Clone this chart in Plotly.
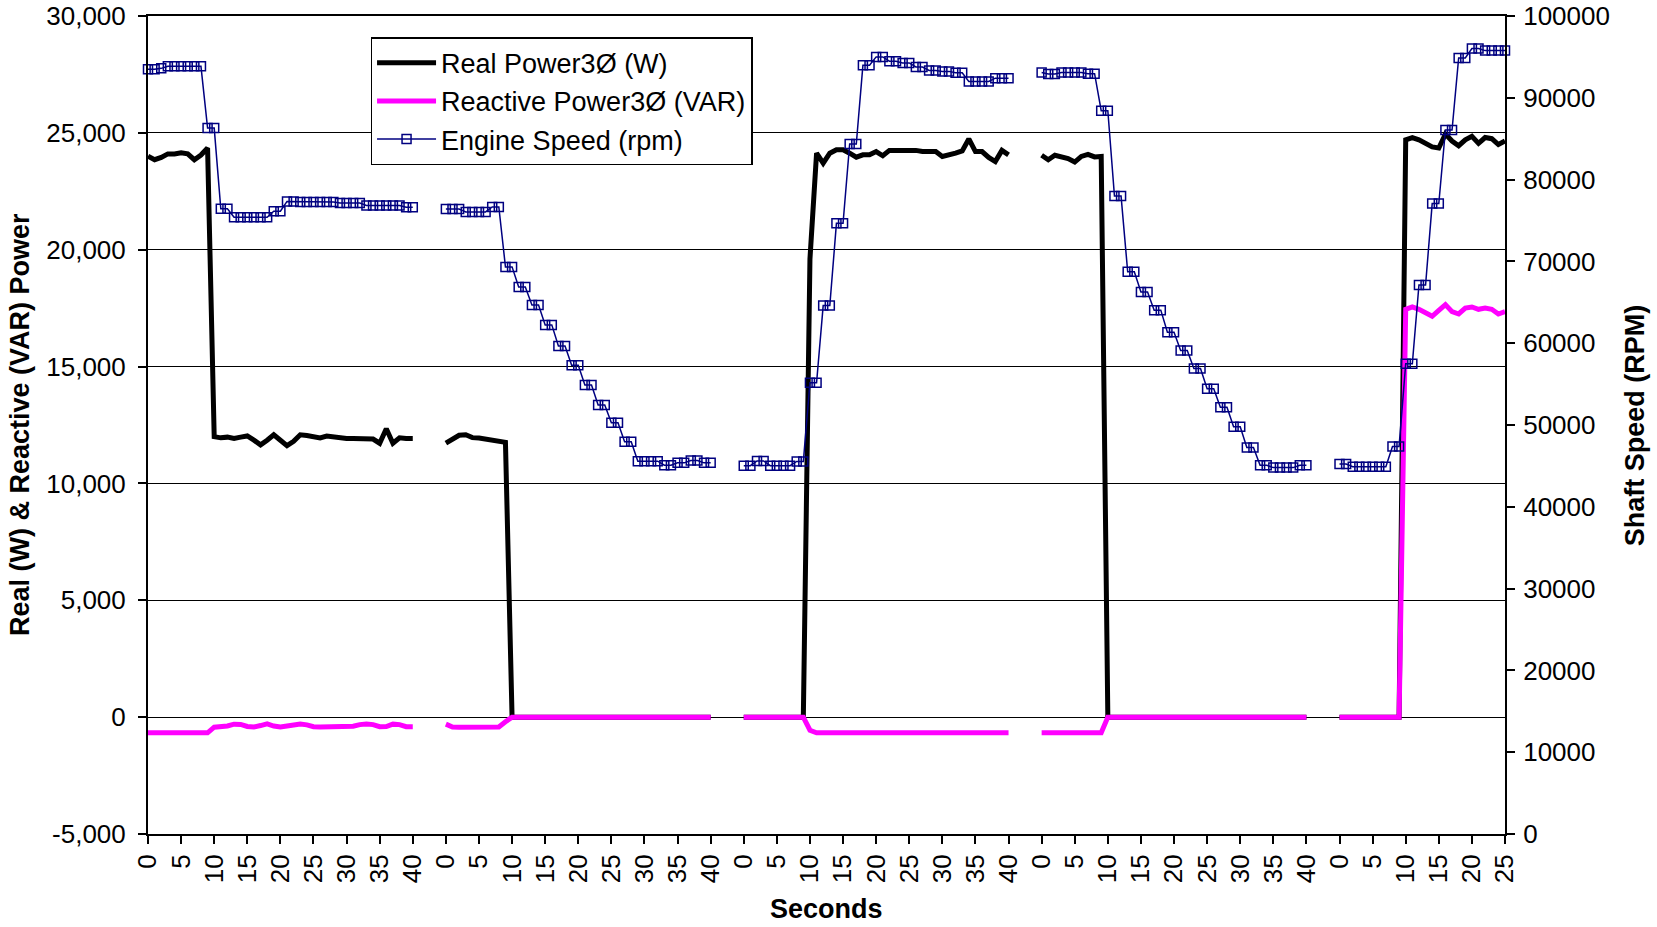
import plotly.graph_objects as go

# ---------------- data (one value per second, per test run) ----------------
real_run1 = [24000, 23850, 23950, 24100, 24100, 24150, 24100, 23850, 24050, 24350,
             12000, 11950, 11980, 11920, 11980, 12030, 11850, 11650, 11850, 12080,
             11850, 11620, 11800, 12080, 12050, 12000, 11950, 12030, 11980, 11920,
             11920, 11920, 11920, 11920, 11900, 11720, 12340, 11720, 11950, 11920, 11920]
react_run1 = [-670, -670, -670, -670, -670, -670, -670, -670, -670, -670,
              -430, -420, -380, -300, -310, -400, -420, -360, -290, -380,
              -420, -380, -310, -290, -330, -410, -420, -420, -420, -420,
              -420, -390, -320, -290, -320, -410, -400, -300, -320, -410, -410]
speed_run1 = [93480, 93480, 93600, 93850, 93850, 93850, 93850, 93850, 93850, 86300,
              86300, 76430, 76430, 75390, 75390, 75390, 75390, 75390, 75390, 76130,
              76130, 77330, 77330, 77250, 77250, 77250, 77250, 77250, 77250, 77130,
              77130, 77130, 77130, 76840, 76840, 76840, 76840, 76840, 76840, 76630, 76630]

real_run2 = [11720, 11880, 12060, 12080, 11960, 11940, 11900, 11880, 11840, 11760,
             0, 0, 0, 0, 0, 0, 0, 0, 0, 0,
             0, 0, 0, 0, 0, 0, 0, 0, 0, 0,
             0, 0, 0, 0, 0, 0, 0, 0, 0, 0, 0]
react_run2 = [-300, -420, -430, -430, -430, -430, -430, -430, -420, -200,
              0, 0, 0, 0, 0, 0, 0, 0, 0, 0,
              0, 0, 0, 0, 0, 0, 0, 0, 0, 0,
              0, 0, 0, 0, 0, 0, 0, 0, 0, 0, 0]
speed_run2 = [76400, 76400, 76400, 76050, 76050, 76050, 76050, 76660, 76660, 69330,
              69330, 66880, 66880, 64680, 64680, 62240, 62240, 59670, 59670, 57310,
              57310, 54900, 54900, 52460, 52460, 50260, 50260, 47940, 47940, 45580,
              45580, 45580, 45580, 45090, 45090, 45370, 45370, 45660, 45660, 45370, 45370]

real_run3 = [0, 0, 0, 0, 0, 0, 0, 0, 0, 0,
             19600, 24130, 23700, 24130, 24280, 24280, 24130, 23960, 24060, 24060,
             24200, 24020, 24250, 24250, 24280, 24280, 24250, 24200, 24200, 24200,
             23990, 24050, 24130, 24230, 24740, 24200, 24200, 23950, 23770, 24250, 24060]
react_run3 = [0, 0, 0, 0, 0, 0, 0, 0, 0, 0,
              -560, -670, -670, -670, -670, -670, -670, -670, -670, -670,
              -670, -670, -670, -670, -670, -670, -670, -670, -670, -670,
              -670, -670, -670, -670, -670, -670, -670, -670, -670, -670, -670]
speed_run3 = [45030, 45030, 45600, 45600, 45030, 45030, 45030, 45030, 45540, 45540,
              55170, 55170, 64600, 64600, 74650, 74650, 84350, 84350, 93970, 93970,
              95000, 95000, 94470, 94470, 94260, 94260, 93770, 93770, 93350, 93350,
              93230, 93230, 93060, 93060, 92000, 92000, 92000, 92000, 92400, 92400, 92400]

real_run4 = [24040, 23850, 24040, 23970, 23900, 23750, 23990, 24080, 23970, 23990,
             0, 0, 0, 0, 0, 0, 0, 0, 0, 0,
             0, 0, 0, 0, 0, 0, 0, 0, 0, 0,
             0, 0, 0, 0, 0, 0, 0, 0, 0, 0, 0]
react_run4 = [-670, -670, -670, -670, -670, -670, -670, -670, -670, -670,
              0, 0, 0, 0, 0, 0, 0, 0, 0, 0,
              0, 0, 0, 0, 0, 0, 0, 0, 0, 0,
              0, 0, 0, 0, 0, 0, 0, 0, 0, 0, 0]
speed_run4 = [93100, 92900, 92900, 93100, 93100, 93100, 93100, 92950, 92950, 88420,
              88420, 77980, 77980, 68720, 68720, 66260, 66260, 64040, 64040, 61330,
              61330, 59110, 59110, 56900, 56900, 54430, 54430, 52180, 52180, 49790,
              49790, 47250, 47250, 45070, 45070, 44790, 44790, 44790, 44790, 45070, 45070]

real_run5 = [0, 0, 0, 0, 0, 0, 0, 0, 0, 0,
             24700, 24800, 24700, 24550, 24400, 24350, 24950, 24650, 24450, 24700,
             24850, 24550, 24800, 24750, 24500, 24650]
react_run5 = [0, 0, 0, 0, 0, 0, 0, 0, 0, 0,
              17450, 17550, 17450, 17300, 17150, 17400, 17650, 17350, 17250, 17500,
              17550, 17450, 17500, 17450, 17250, 17350]
speed_run5 = [45220, 45220, 44900, 44900, 44900, 44900, 44900, 44900, 47380, 47380,
              57480, 57480, 67110, 67110, 77070, 77070, 86060, 86060, 94880, 94880,
              96020, 96020, 95770, 95770, 95770, 95770]

# category-axis tick labels (seconds within each run)
x_tick_labels = ["0", "5", "10", "15", "20", "25", "30", "35", "40",
                 "0", "5", "10", "15", "20", "25", "30", "35", "40",
                 "0", "5", "10", "15", "20", "25", "30", "35", "40",
                 "0", "5", "10", "15", "20", "25", "30", "35", "40",
                 "0", "5", "10", "15", "20", "25"]
y_left_ticks = [-5000, 0, 5000, 10000, 15000, 20000, 25000, 30000]
y_left_labels = ["-5,000", "0", "5,000", "10,000", "15,000", "20,000", "25,000", "30,000"]
y_right_ticks = [0, 10000, 20000, 30000, 40000, 50000, 60000, 70000, 80000, 90000, 100000]
y_right_labels = ["0", "10000", "20000", "30000", "40000", "50000", "60000",
                  "70000", "80000", "90000", "100000"]

BLANK_ROWS = 4  # empty rows between runs in the worksheet


def join_runs(runs):
    out = []
    for k, r in enumerate(runs):
        if k:
            out += [None] * BLANK_ROWS
        out += r
    return out


real = join_runs([real_run1, real_run2, real_run3, real_run4, real_run5])
react = join_runs([react_run1, react_run2, react_run3, react_run4, react_run5])
speed = join_runs([speed_run1, speed_run2, speed_run3, speed_run4, speed_run5])
x = list(range(len(real)))
x_tick_vals = [i for i in x if i % 5 == 0]

FONT = "Arial, Liberation Sans, sans-serif"
TICKFONT = dict(family=FONT, size=26, color="black")
TITLEFONT = dict(family=FONT, size=27, color="black")

fig = go.Figure()
fig.add_trace(go.Scatter(
    x=x, y=real, mode="lines", name="Real Power3Ø (W)",
    line=dict(color="black", width=5), legendgroup="a"))
fig.add_trace(go.Scatter(
    x=x, y=react, mode="lines", name="Reactive Power3Ø (VAR)",
    line=dict(color="#FF00FF", width=5), legendgroup="b"))
fig.add_trace(go.Scatter(
    x=x, y=speed, mode="lines+markers", name="Engine Speed (rpm)", yaxis="y2",
    line=dict(color="#000080", width=1.5),
    marker=dict(symbol="square-open", size=9, color="#000080",
                line=dict(color="#000080", width=1.5)),
    cliponaxis=False, legendgroup="c"))

fig.update_layout(
    width=1657, height=927,
    margin=dict(l=148, r=152, t=16, b=93, autoexpand=False),
    paper_bgcolor="white", plot_bgcolor="white",
    font=dict(family=FONT, size=26, color="black"),
    showlegend=True,
    legend=dict(x=0.164, y=0.974, xanchor="left", yanchor="top",
                bgcolor="white", bordercolor="black", borderwidth=1.5,
                font=dict(family=FONT, size=27, color="black"),
                itemwidth=59, tracegroupgap=3, traceorder="normal"),
    xaxis=dict(range=[0, len(x) - 1], tickmode="array", automargin=False,
               tickvals=x_tick_vals, ticktext=x_tick_labels, tickangle=-90,
               showgrid=False, zeroline=False,
               showline=True, linecolor="black", linewidth=2, mirror=True,
               ticks="outside", ticklen=8, tickwidth=2, tickcolor="black",
               ticklabeloverflow="allow", tickfont=TICKFONT),
    yaxis=dict(range=[-5000, 30000], tickmode="array", automargin=False,
               tickvals=y_left_ticks, ticktext=y_left_labels,
               showgrid=True, gridcolor="black", gridwidth=1.3, zeroline=False,
               showline=True, linecolor="black", linewidth=2,
               ticks="outside", ticklen=8, tickwidth=2, tickcolor="black",
               ticklabelstandoff=7, ticklabeloverflow="allow", tickfont=TICKFONT),
    yaxis2=dict(range=[0, 100000], overlaying="y", side="right", automargin=False,
                tickmode="array", tickvals=y_right_ticks, ticktext=y_right_labels,
                showgrid=False, zeroline=False,
                showline=True, linecolor="black", linewidth=2,
                ticks="outside", ticklen=8, tickwidth=2, tickcolor="black",
                ticklabelstandoff=3, ticklabeloverflow="allow", tickfont=TICKFONT),
    annotations=[
        dict(text="<b>Real (W) & Reactive (VAR) Power</b>", xref="paper", yref="paper",
             x=-0.0943, y=0.5, textangle=-90, showarrow=False,
             xanchor="center", yanchor="middle", font=TITLEFONT),
        dict(text="<b>Shaft Speed (RPM)</b>", xref="paper", yref="paper",
             x=1.096, y=0.5, textangle=-90, showarrow=False,
             xanchor="center", yanchor="middle", font=TITLEFONT),
        dict(text="<b>Seconds</b>", xref="paper", yref="paper",
             x=0.5, y=-0.0917, showarrow=False,
             xanchor="center", yanchor="middle", font=TITLEFONT),
    ],
)

# remove the default 8px page margin so the figure fills the window exactly
fig.write_html("out.html",
               config={"displayModeBar": False},
               post_script="document.body.style.margin='0px';"
                           "document.body.style.overflow='hidden';")
